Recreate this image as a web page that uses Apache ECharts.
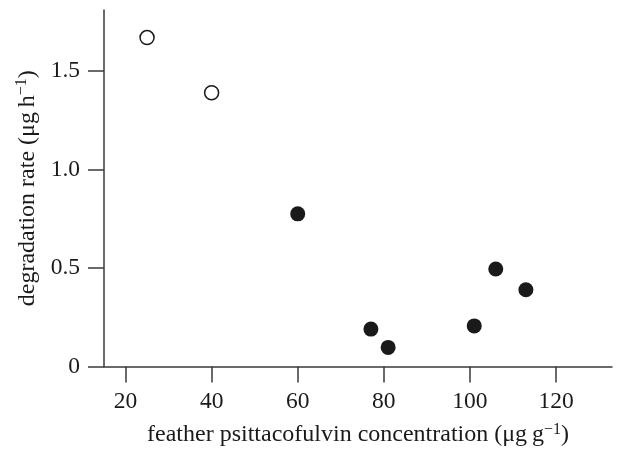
<!DOCTYPE html>
<html>
<head>
<meta charset="utf-8">
<script src="https://cdn.jsdelivr.net/npm/echarts@6/dist/echarts.min.js"></script>
<style>
html,body{margin:0;padding:0;background:#fff;}
#chart{width:617px;height:452px;}
</style>
</head>
<body>
<div id="chart"></div>
<script>
// open circles
var openX = [25, 40];
var openY = [1.67, 1.39];
// filled circles
var filledX = [60, 77, 81, 101, 106, 113];
var filledY = [0.775, 0.19, 0.097, 0.206, 0.495, 0.39];
// tick values
var xTicks = [20, 40, 60, 80, 100, 120];
var yTicks = [0, 0.5, 1.0, 1.5];

function pairs(xs, ys) { return xs.map(function (x, i) { return [x, ys[i]]; }); }

var font = 'Liberation Serif';
var ink = '#1a1a1a';
var axisCol = '#3a3a3a';
var fs = 23.5;
var nfs = 24;

var rich = {
  a: {fontFamily: font, fontSize: nfs, color: ink, lineHeight: 27},
  s: {fontFamily: font, fontSize: 16, color: ink, verticalAlign: 'top', lineHeight: 17}
};

var chart = echarts.init(document.getElementById('chart'), null, {renderer: 'canvas'});
chart.setOption({
  animation: false,
  backgroundColor: '#fff',
  grid: {left: 104, right: 5, top: 10, bottom: 83, containLabel: false},
  xAxis: {
    type: 'value',
    min: 15, max: 133,
    splitLine: {show: false},
    axisLine: {show: true, onZero: false, lineStyle: {color: axisCol, width: 1.5}},
    axisTick: {show: true, inside: false, length: 16, customValues: xTicks, lineStyle: {color: axisCol, width: 1.5}},
    axisLabel: {show: true, customValues: xTicks, margin: 23, fontFamily: font, fontSize: fs, color: ink},
    name: '{a|feather psittacofulvin concentration (μg\u2009g}{s|−1}{a|)}',
    nameLocation: 'middle',
    nameGap: 55,
    nameTextStyle: {fontFamily: font, fontSize: nfs, color: ink, rich: rich}
  },
  yAxis: {
    type: 'value',
    min: 0, max: 1.81,
    splitLine: {show: false},
    axisLine: {show: true, lineStyle: {color: axisCol, width: 1.5}},
    axisTick: {show: true, inside: false, length: 16, customValues: yTicks, lineStyle: {color: axisCol, width: 1.5}},
    axisLabel: {
      show: true, customValues: yTicks, margin: 24, fontFamily: font, fontSize: fs, color: ink,
      formatter: function (v) { return v === 0 ? '0' : v.toFixed(1); }
    },
    name: '{a|degradation rate (μg\u2009h}{s|−1}{a|)}',
    nameLocation: 'middle',
    nameRotate: 90,
    nameGap: 62,
    nameTextStyle: {fontFamily: font, fontSize: nfs, color: ink, rich: rich}
  },
  series: [
    {
      type: 'scatter',
      data: pairs(openX, openY),
      symbol: 'circle',
      symbolSize: 14,
      itemStyle: {color: '#fff', borderColor: ink, borderWidth: 1.5, opacity: 1},
      z: 3
    },
    {
      type: 'scatter',
      data: pairs(filledX, filledY),
      symbol: 'circle',
      symbolSize: 15,
      itemStyle: {color: '#1a1a1a', opacity: 1},
      z: 3
    }
  ]
});
</script>
</body>
</html>
